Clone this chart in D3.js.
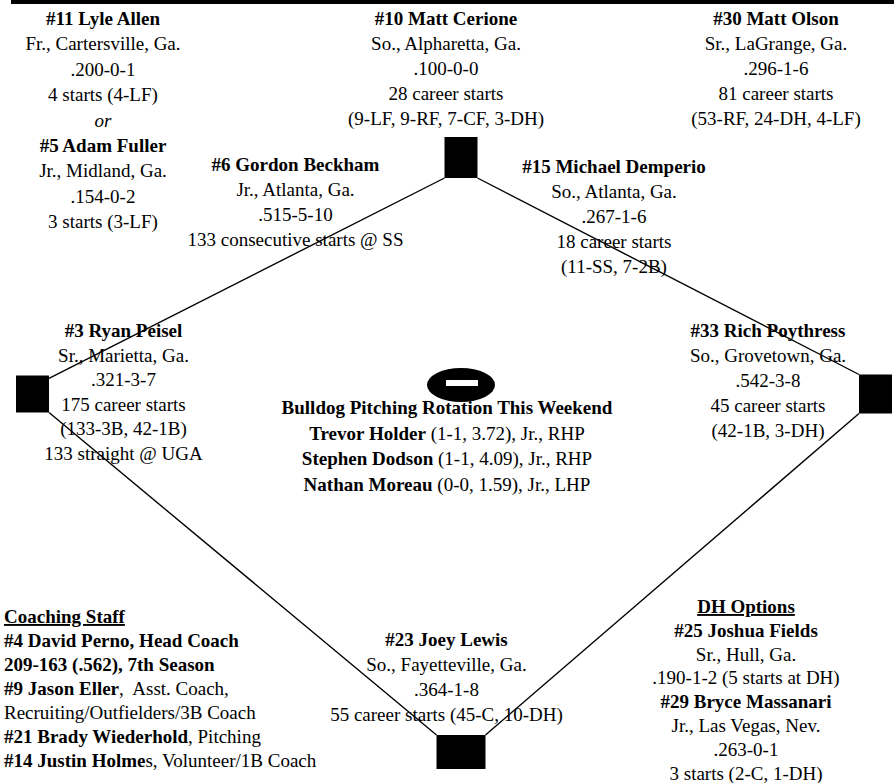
<!DOCTYPE html>
<html>
<head>
<meta charset="utf-8">
<script src="https://cdn.jsdelivr.net/npm/d3@7"></script>
<style>
  html, body { margin: 0; padding: 0; background: #fff; }
  #chart { width: 894px; height: 783px; }
  text { font-family: "Liberation Serif", "Times New Roman", serif; font-size: 19px; fill: #000; white-space: pre; }
  .b { font-weight: bold; }
</style>
</head>
<body>
<div id="chart"></div>
<script>
// roster text, one array per position
const leftField = ["#11 Lyle Allen", "Fr., Cartersville, Ga.", ".200-0-1", "4 starts (4-LF)", "or",
                   "#5 Adam Fuller", "Jr., Midland, Ga.", ".154-0-2", "3 starts (3-LF)"];
const centerField = ["#10 Matt Cerione", "So., Alpharetta, Ga.", ".100-0-0", "28 career starts", "(9-LF, 9-RF, 7-CF, 3-DH)"];
const rightField = ["#30 Matt Olson", "Sr., LaGrange, Ga.", ".296-1-6", "81 career starts", "(53-RF, 24-DH, 4-LF)"];
const shortStop = ["#6 Gordon Beckham", "Jr., Atlanta, Ga.", ".515-5-10", "133 consecutive starts @ SS"];
const secondBase = ["#15 Michael Demperio", "So., Atlanta, Ga.", ".267-1-6", "18 career starts", "(11-SS, 7-2B)"];
const thirdBase = ["#3 Ryan Peisel", "Sr., Marietta, Ga.", ".321-3-7", "175 career starts", "(133-3B, 42-1B)", "133 straight @ UGA"];
const firstBase = ["#33 Rich Poythress", "So., Grovetown, Ga.", ".542-3-8", "45 career starts", "(42-1B, 3-DH)"];
const catcher = ["#23 Joey Lewis", "So., Fayetteville, Ga.", ".364-1-8", "55 career starts (45-C, 10-DH)"];
const dhOptions = ["DH Options", "#25 Joshua Fields", "Sr., Hull, Ga.", ".190-1-2 (5 starts at DH)",
                   "#29 Bryce Massanari", "Jr., Las Vegas, Nev.", ".263-0-1", "3 starts (2-C, 1-DH)"];

// pitching rotation
const rotationTitle = "Bulldog Pitching Rotation This Weekend";
const pitcherNames = ["Trevor Holder", "Stephen Dodson", "Nathan Moreau"];
const pitcherRecords = ["1-1, 3.72", "1-1, 4.09", "0-0, 1.59"];
const pitcherClass = ["Jr.", "Jr.", "Jr."];
const pitcherHand = ["RHP", "RHP", "LHP"];

// coaching staff: bold part + plain part of each line
const coachTitle = "Coaching Staff";
const coachBold = ["#4 David Perno, Head Coach", "209-163 (.562), 7th Season", "#9 Jason Eller", "",
                   "#21 Brady Wiederhold", "#14 Justin Holme"];
const coachPlain = ["", "", ",  Asst. Coach,", "Recruiting/Outfielders/3B Coach", ", Pitching", "s, Volunteer/1B Coach"];

// bases in field units (x: 3B..1B, y: home..2B)
const bases = [
  {name: "2B", fx: 0, fy: 1, w: 33, h: 41},
  {name: "3B", fx: -1, fy: 0, w: 33, h: 37},
  {name: "1B", fx: 1, fy: 0, w: 33, h: 39},
  {name: "HP", fx: 0, fy: -1, w: 49, h: 34}
];

/*
SETTING UP THE SVG CANVAS
*/
const width = 894;
const height = 783;

const canvas = d3.select("#chart")
  .append("svg")
  .attr("width", width)
  .attr("height", height);

const xScale = d3.scaleLinear().domain([-1, 0, 1]).range([32.5, 461, 875.5]);
const yScale = d3.scaleLinear().domain([1, 0, -1]).range([157.5, 394, 752]);

// top rule
canvas.append("rect")
  .attr("x", 11).attr("y", 0)
  .attr("width", width - 11).attr("height", 4)
  .attr("fill", "#000");

/*
DIAMOND
*/
function corner(name, sx, sy) {
  const b = bases.find(d => d.name === name);
  return [xScale(b.fx) + sx * b.w / 2, yScale(b.fy) + sy * b.h / 2];
}
const baseLines = [
  [corner("2B", -1, 1), corner("3B", 1, -0.85)],
  [corner("3B", 1, 1), corner("HP", -1, -1)],
  [corner("HP", 1, -1), corner("1B", -1, 1)],
  [corner("1B", -1, -1), corner("2B", 1, 1)]
];
canvas.selectAll(".baseline")
  .data(baseLines)
  .enter()
  .append("line")
    .attr("class", "baseline")
    .attr("x1", d => d[0][0]).attr("y1", d => d[0][1])
    .attr("x2", d => d[1][0]).attr("y2", d => d[1][1])
    .attr("stroke", "#000")
    .attr("stroke-width", 1.4);

canvas.selectAll(".base")
  .data(bases)
  .enter()
  .append("rect")
    .attr("class", "base")
    .attr("x", d => xScale(d.fx) - d.w / 2)
    .attr("y", d => yScale(d.fy) - d.h / 2)
    .attr("width", d => d.w)
    .attr("height", d => d.h)
    .attr("fill", "#000");

// pitcher's mound
const mx = xScale(0), my = yScale(0) - 9;
canvas.append("ellipse")
  .attr("cx", mx).attr("cy", my)
  .attr("rx", 34).attr("ry", 17)
  .attr("fill", "#000");
canvas.append("rect")
  .attr("x", mx - 15).attr("y", my - 5)
  .attr("width", 32).attr("height", 6)
  .attr("fill", "#fff");

/*
TEXT BLOCKS
*/
function block(lines, x, y, lh, anchor) {
  return canvas.append("g")
    .selectAll("text")
    .data(lines)
    .enter()
    .append("text")
      .attr("x", x)
      .attr("y", (d, i) => y + i * lh)
      .attr("text-anchor", anchor || "middle")
      .attr("class", d => d.startsWith("#") ? "b" : null)
      .style("font-style", d => d === "or" ? "italic" : null)
      .text(d => d);
}

block(leftField, 103, 25, 25.4);
block(centerField, 446, 25, 25);
block(rightField, 776, 25, 25);
block(shortStop, 295.5, 171, 25);
block(secondBase, 614, 173, 25);
block(thirdBase, 123.5, 337, 24.5);
block(firstBase, 768, 337, 25);
block(catcher, 446.5, 646, 25);

block(dhOptions, 746, 613, 23.8)
  .filter((d, i) => i === 0)
  .attr("class", "b")
  .style("text-decoration", "underline");

// rotation
canvas.append("text")
  .attr("x", 447).attr("y", 414)
  .attr("text-anchor", "middle")
  .attr("class", "b")
  .text(rotationTitle);

const rot = canvas.selectAll(".pitcher")
  .data(pitcherNames)
  .enter()
  .append("text")
    .attr("class", "pitcher")
    .attr("x", 447)
    .attr("y", (d, i) => 439.5 + i * 25.5)
    .attr("text-anchor", "middle");
rot.append("tspan").attr("class", "b").text(d => d);
rot.append("tspan").text((d, i) => ` (${pitcherRecords[i]}), ${pitcherClass[i]}, ${pitcherHand[i]}`);

// coaching staff
canvas.append("text")
  .attr("x", 4).attr("y", 623)
  .attr("class", "b")
  .style("text-decoration", "underline")
  .text(coachTitle);

const coaches = canvas.selectAll(".coach")
  .data(coachBold)
  .enter()
  .append("text")
    .attr("class", "coach")
    .attr("x", 4)
    .attr("y", (d, i) => 647 + i * 24);
coaches.append("tspan").attr("class", "b").text(d => d);
coaches.append("tspan").text((d, i) => coachPlain[i]);
</script>
</body>
</html>
